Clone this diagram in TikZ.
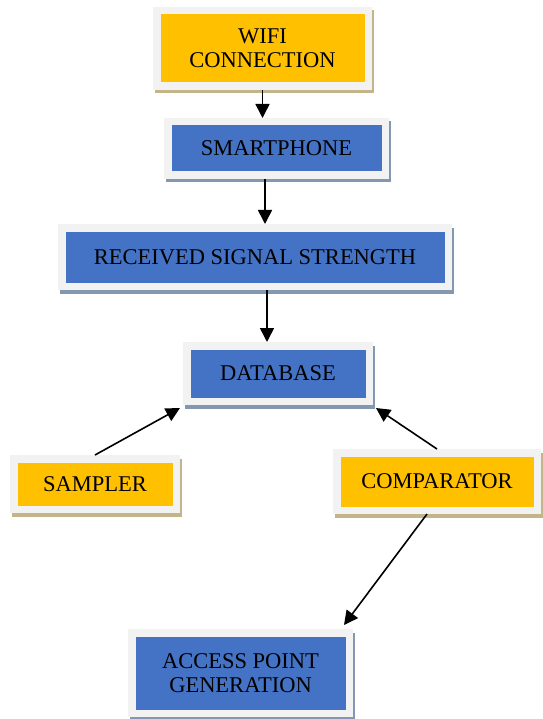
\documentclass[tikz,border=0pt]{standalone}
\usepackage{fontspec}
\setmainfont{Liberation Serif}
\usetikzlibrary{arrows.meta, shadows}

\definecolor{boxyellow}{HTML}{FFC000}
\definecolor{boxblue}{HTML}{4472C4}
\definecolor{boxframe}{HTML}{F2F2F2}
\definecolor{shadeyellow}{HTML}{C4B48A}
\definecolor{shadeblue}{HTML}{8497B0}

\begin{document}
\begin{tikzpicture}[
        x=1pt, y=-1pt,
        box/.style={draw=boxframe, line width=7.5pt, align=center, inner sep=0pt,
            font=\fontsize{22.5}{24}\selectfont},
        yellowbox/.style={box, fill=boxyellow,
            drop shadow={shadow xshift=2pt, shadow yshift=-3.5pt, opacity=1,
                fill=shadeyellow, draw=shadeyellow, line width=7.5pt}},
        bluebox/.style={box, fill=boxblue,
            drop shadow={shadow xshift=2pt, shadow yshift=-3.5pt, opacity=1,
                fill=shadeblue, draw=shadeblue, line width=7.5pt}},
        arr/.style={-{Triangle[length=14pt, width=14pt]}, line width=1.6pt}
    ]
        \useasboundingbox (0,0) rectangle (542,719);

        % Boxes
        \node[yellowbox, minimum width=211.5pt, minimum height=75.5pt] (wifi) at (262.5,48.5) {WIFI\\CONNECTION};
        \node[bluebox, minimum width=217.5pt, minimum height=53.5pt] (phone) at (276.5,148.5) {SMARTPHONE};
        \node[bluebox, minimum width=386.5pt, minimum height=58.5pt] (rss) at (255,257) {RECEIVED SIGNAL STRENGTH};
        \node[bluebox, minimum width=182.5pt, minimum height=55.5pt] (db) at (278,373.5) {DATABASE};
        \node[yellowbox, minimum width=162.5pt, minimum height=50.5pt] (sampler) at (95,484) {SAMPLER};
        \node[yellowbox, minimum width=200.5pt, minimum height=57.5pt] (comp) at (437,481.5) {COMPARATOR};
        \node[bluebox, minimum width=217.5pt, minimum height=80.5pt] (ap) at (240.5,673) {ACCESS POINT\\GENERATION};

        % Connectors
        \draw[arr] (wifi.south) -- (wifi.south |- phone.north);
        \draw[arr] ([xshift=-11.5pt]phone.south) -- ([xshift=-11.5pt]phone.south |- rss.north);
        \draw[arr] ([xshift=12pt]rss.south) -- ([xshift=12pt]rss.south |- db.north);
        \draw[arr] (sampler.north) -- ([xshift=-3pt, yshift=-3pt]db.south west);
        \draw[arr] (comp.north) -- ([xshift=3pt, yshift=-3pt]db.south east);
        \draw[arr] ([xshift=-10pt]comp.south) -- ([xshift=-9pt, yshift=4pt]ap.north east);
    \end{tikzpicture}
\end{document}
